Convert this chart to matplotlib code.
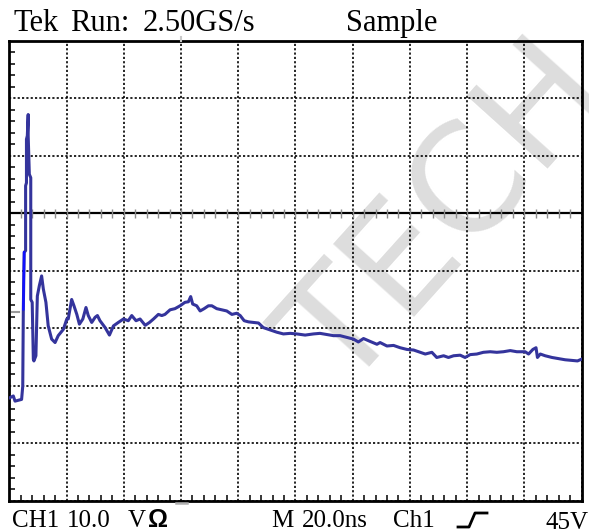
import matplotlib
matplotlib.use("Agg")
import numpy as np
import matplotlib.pyplot as plt
from matplotlib.lines import Line2D

# time (ns) and channel 1 voltage (V) (20 ns/div, 10 V/div)
t_ns = [0.2, 1.4, 2.0, 4.3, 4.7, 4.9, 5.2, 5.7, 5.7, 6.0, 6.0, 6.3, 6.6,
        6.6, 7.0, 7.5, 7.5, 8.0, 8.4, 8.6, 9.3, 9.8, 10.5, 11.3, 11.9, 12.8,
        13.6, 14.8, 16.0, 17.1, 18.9, 20.1, 20.6, 21.8, 22.6, 23.6, 24.5, 25.7,
        26.8, 27.6, 28.8, 30.0, 30.8, 31.7, 33.5, 35.0, 36.4, 38.1, 39.9, 41.6,
        42.8, 44.3, 45.7, 47.5, 49.0, 50.4, 52.1, 53.3, 54.4, 56.2, 57.9, 59.7,
        61.4, 62.6, 63.4, 64.1, 65.5, 66.7, 68.1, 69.6, 70.8, 72.5, 74.3, 76.0,
        77.8, 79.5, 80.7, 82.1, 83.6, 85.3, 87.1, 88.8, 91.2, 93.5, 95.8, 98.2,
        100.5, 103.4, 106.3, 108.6, 111.0, 113.3, 115.6, 118.0, 120.3, 122.0,
        123.8, 126.1, 128.5, 129.6, 132.0, 134.3, 136.6, 139.0, 141.3, 143.6,
        145.4, 147.7, 149.4, 151.8, 153.5, 155.3, 157.6, 159.3, 161.1, 163.4,
        165.7, 168.1, 170.4, 172.7, 175.1, 177.4, 180.3, 181.5, 183.0, 184.1,
        184.6, 185.6, 187.3, 189.7, 192.0, 194.3, 196.6, 198.6, 200.0]
v_ch1 = [-32.1, -31.8, -32.7, -32.4, -30.1, -16.7, -6.8, -6.5, 4.8,
         5.3, 12.9, 13.5, 17.2, 13.5, 6.8, 6.2, -15.0, -15.5, -25.4, -25.7,
         -24.8, -14.4, -12.6, -10.9, -13.2, -15.5, -19.6, -21.9, -22.5, -21.3,
         -20.2, -18.4, -18.4, -15.0, -16.1, -17.6, -19.3, -18.4, -16.4, -17.8,
         -19.0, -18.1, -17.8, -18.7, -19.9, -21.2, -19.6, -19.0, -18.4, -18.7,
         -17.8, -18.7, -18.4, -19.5, -19.0, -18.4, -17.6, -17.8, -17.6, -16.8,
         -16.6, -16.1, -15.5, -15.4, -14.5, -15.8, -16.1, -17.0, -16.6, -16.1,
         -16.1, -16.6, -16.8, -17.0, -17.6, -17.4, -17.8, -18.7, -18.9, -19.0,
         -19.1, -19.9, -20.3, -20.7, -21.0, -20.9, -21.0, -21.2, -21.0, -20.9,
         -21.1, -21.3, -21.3, -21.6, -21.9, -22.4, -21.8, -22.3, -22.8, -22.5,
         -23.1, -23.0, -23.4, -23.7, -23.8, -24.2, -24.5, -24.2, -25.1, -24.8,
         -25.1, -24.8, -24.7, -25.1, -24.6, -24.5, -24.2, -24.1, -24.2, -24.1,
         -23.9, -24.1, -24.1, -24.5, -23.7, -23.4, -25.1, -24.5, -24.8, -25.1,
         -25.3, -25.5, -25.6, -25.7, -25.4]

W, H = 589, 531


def fx(x):
    return x / W


def fy(y):
    return 1 - y / H


fig = plt.figure(figsize=(W / 100, H / 100), dpi=100, facecolor="white")
ax = fig.add_axes([fx(9.3), fy(500.5), fx(581.5) - fx(9.3), fy(41) - fy(500.5)])
ax.patch.set_alpha(0)

# watermark behind the transparent axes
fig.text(fx(448), fy(218), "TECH", rotation=48, fontsize=108,
         family="DejaVu Sans", color="#dddddd", ha="center", va="center",
         zorder=-5)

ax.set_xlim(0, 200)
ax.set_ylim(-50, 30)
ax.set_xticks(np.arange(0, 201, 20))
ax.set_yticks(np.arange(-50, 31, 10))
ax.set_xticks(np.arange(0, 201, 4), minor=True)
ax.set_yticks(np.arange(-50, 31, 2), minor=True)
ax.tick_params(which="major", length=0, labelbottom=False, labelleft=False)
ax.tick_params(which="minor", direction="in", length=4, width=1.1,
               color="black", top=False, right=False)
ax.grid(True, which="major", color="black", linewidth=1.2,
        linestyle=(0, (1.3, 1.3)))
for s in ax.spines.values():
    s.set_linewidth(2.0)

# solid reference line with gray graticule marks
ax.axhline(0, color="black", linewidth=1.6, zorder=2.5)
ax.vlines(np.arange(4, 200, 4), -0.75, 0.75, color="#8c8c8c", linewidth=1.0,
          zorder=2.6)

# trace
ax.plot(t_ns, v_ch1, color="#34349c", linewidth=2.2, zorder=4)
ax.plot(t_ns[5:7], v_ch1[5:7], color="#1010ff", linewidth=1.8, zorder=4.5)

# small markers around the graticule
fig.add_artist(Line2D([fx(12), fx(19)], [fy(312), fy(312)], color="#9a9a9a", lw=1.5))
fig.add_artist(Line2D([fx(176), fx(187)], [fy(502.5), fy(502.5)], color="#b0b0b0", lw=1.8))
fig.add_artist(Line2D([fx(181), fx(181)], [fy(37), fy(41)], color="#c8c8c8", lw=1.5))

# status text
serif = "Liberation Serif"
fig.text(fx(13), fy(31), "Tek", fontsize=22, family=serif, va="baseline")
fig.text(fx(70), fy(31), "Run:", fontsize=22, family=serif, va="baseline")
fig.text(fx(143), fy(31), "2.50GS/s", fontsize=22, family=serif, va="baseline")
fig.text(fx(346), fy(31), "Sample", fontsize=22, family=serif, va="baseline")

fig.text(fx(12), fy(527), "CH1", fontsize=18, family=serif, va="baseline")
fig.text(fx(67), fy(527), "10.0", fontsize=18, family=serif, va="baseline")
fig.text(fx(128), fy(527), "V", fontsize=18, family=serif, va="baseline")
fig.text(fx(148), fy(527), "Ω", fontsize=18, family="Liberation Sans",
         weight="bold", va="baseline")
fig.text(fx(271), fy(527), "M", fontsize=18, family=serif, va="baseline")
fig.text(fx(302), fy(527), "20.0ns", fontsize=18, family=serif, va="baseline")
fig.text(fx(393), fy(527), "Ch1", fontsize=18, family=serif, va="baseline")
fig.text(fx(545), fy(529), "45V", fontsize=18, family=serif, va="baseline")

# rising-edge trigger symbol
fig.add_artist(Line2D([fx(458), fx(469), fx(475), fx(487)],
                      [fy(527), fy(527), fy(513), fy(513)],
                      color="black", lw=2.0))

fig.savefig("out.png", dpi=100, facecolor="white")
